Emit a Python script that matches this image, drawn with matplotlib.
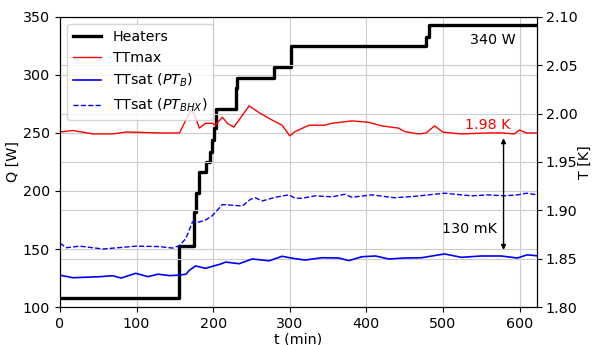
import numpy as np
import matplotlib
matplotlib.use('Agg')
from matplotlib import pyplot as plt

# Heater power (W), step profile
t_heat = [0, 155, 174.5, 177.5, 181, 190.5, 195.5, 198.3, 201.3, 204.3, 229.4, 231.6,
          279, 301, 302, 478, 481.4, 623]
q_heat = [108, 153, 182, 198, 216.6, 225.3, 234, 244, 254, 270.4, 288.5, 297.2,
          306.6, 316, 325, 332.5, 343, 343]

# TTmax (K)
t_max = [0, 17, 43, 69, 87, 130, 156, 164.5, 171, 175, 182, 190, 199, 203, 212, 218.6,
         227, 247, 260, 273, 290, 300, 307, 325, 346, 355, 381, 403, 420, 442, 450,
         468, 478, 489, 500, 524, 558, 578, 593, 600, 609, 623]
T_max = [1.981, 1.9825, 1.979, 1.979, 1.981, 1.980, 1.980, 1.9935, 2.003, 2.0005, 1.985,
         1.990, 1.990, 1.988, 1.9963, 1.990, 1.986, 2.008, 2.001, 1.995, 1.988, 1.977,
         1.9815, 1.988, 1.988, 1.990, 1.9925, 1.991, 1.9873, 1.985, 1.9815, 1.979, 1.980,
         1.9873, 1.9808, 1.979, 1.980, 1.980, 1.979, 1.983, 1.980, 1.980]

# TTsat from PT_B (K)
t_b = [0, 17, 52, 69, 80, 99, 115, 128, 143, 156, 164.5, 169, 177, 190, 203, 208, 216.5,
       234, 251, 255, 273, 290, 303, 320, 342, 364, 377, 394, 412, 429, 450, 472, 502,
       524, 550, 576, 597, 610, 623]
T_b = [1.833, 1.8303, 1.8314, 1.8324, 1.830, 1.8349, 1.8314, 1.834, 1.8325, 1.833, 1.834,
       1.838, 1.8425, 1.840, 1.843, 1.844, 1.8465, 1.8448, 1.8497, 1.8494, 1.8478, 1.8525,
       1.8505, 1.8486, 1.851, 1.8507, 1.848, 1.852, 1.8528, 1.8497, 1.8507, 1.851, 1.8549,
       1.8514, 1.8528, 1.8528, 1.8507, 1.854, 1.853]

# TTsat from PT_BHX (K)
t_bhx = [0, 8.7, 26, 56, 100, 130, 147, 156, 164.5, 173, 182, 190, 199, 212, 221, 238,
         249, 255, 264, 281, 299, 307, 316, 333, 355, 372, 381, 407, 437, 463, 502, 537,
         558, 580, 597, 609, 623]
T_bhx = [1.866, 1.8614, 1.863, 1.860, 1.863, 1.8625, 1.861, 1.8635, 1.871, 1.888, 1.888,
         1.890, 1.8945, 1.906, 1.9055, 1.9045, 1.9115, 1.913, 1.9097, 1.9135, 1.916, 1.9125,
         1.9125, 1.915, 1.914, 1.9166, 1.9135, 1.916, 1.913, 1.9145, 1.9177, 1.915, 1.916,
         1.915, 1.916, 1.9177, 1.916]

plt.rcParams['font.size'] = 10.3

fig = plt.figure(figsize=(5.93, 3.45), dpi=100)
ax = fig.add_axes([0.101, 0.110, 0.805, 0.841])
ax2 = ax.twinx()

l1, = ax.plot(t_heat, q_heat, drawstyle='steps-post', color='black', lw=2.4, label='Heaters')
l2, = ax2.plot(t_max, T_max, color='red', lw=1.0, label='TTmax')
l3, = ax2.plot(t_b, T_b, color='blue', lw=1.2, label='TTsat ($PT_B$)')
l4, = ax2.plot(t_bhx, T_bhx, color='blue', lw=1.0, ls='--', label='TTsat ($PT_{BHX}$)')

ax.set_xlim(0, 623)
ax.set_ylim(100, 350)
ax2.set_ylim(1.80, 2.10)
ax.set_xticks([0, 100, 200, 300, 400, 500, 600])
ax.set_yticks([100, 150, 200, 250, 300, 350])
ax2.set_yticks([1.80, 1.85, 1.90, 1.95, 2.00, 2.05, 2.10])
ax2.tick_params(axis='y', pad=2.5)
ax.grid(True, color='#cccccc', lw=0.8)
ax2.grid(True, axis='y', color='#cccccc', lw=0.8)
ax.set_xlabel('t (min)', labelpad=1)
ax.set_ylabel('Q [W]', labelpad=2)
ax2.set_ylabel('T [K]', labelpad=0)

ax.text(565, 330, '340 W', ha='center', va='center', color='black')
ax2.text(558, 1.988, '1.98 K', ha='center', va='center', color='red')
ax2.text(534, 1.881, '130 mK', ha='center', va='center', color='black')
ax2.annotate('', xy=(579, 1.859), xytext=(579, 1.9746),
             arrowprops=dict(arrowstyle='<|-|>', color='black', lw=1.0, mutation_scale=7,
                             shrinkA=0, shrinkB=0))

ax2.legend(handles=[l1, l2, l3, l4], loc='upper left', borderaxespad=0.5)

fig.savefig('out.png', dpi=100)
